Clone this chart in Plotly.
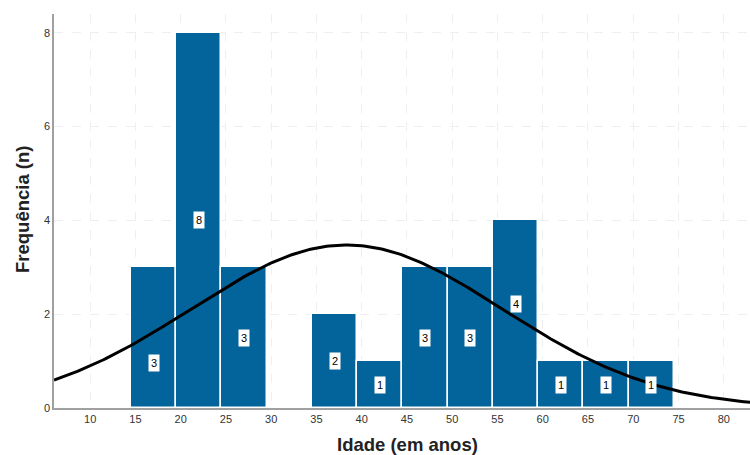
import numpy as np
import plotly.graph_objects as go

# Data: histogram bins (bin centers, years) and counts
bin_centers = [17, 22, 27, 37, 42, 47, 52, 57, 62, 67, 72]
counts = [3, 8, 3, 2, 1, 3, 3, 4, 1, 1, 1]
bin_width = 5
x_ticks = [10, 15, 20, 25, 30, 35, 40, 45, 50, 55, 60, 65, 70, 75, 80]
y_ticks = [0, 2, 4, 6, 8]
# heights where the count labels sit inside each bar
label_heights = [0.97, 4.0, 1.5, 1.0, 0.5, 1.5, 1.5, 2.21, 0.5, 0.5, 0.5]

bar_color = "#03639b"

# fitted normal curve from the histogram data
c = np.array(bin_centers, float)
n = np.array(counts, float)
N = n.sum()
mean = (c * n).sum() / N
sd = np.sqrt(((c - mean) ** 2 * n).sum() / (N - 1))
xs = np.linspace(6.0, 83, 300)
ys = N * bin_width / (sd * np.sqrt(2 * np.pi)) * np.exp(-0.5 * ((xs - mean) / sd) ** 2)

W, H = 750, 455
ML, MR, MT, MB = 54, 0, 14, 47

fig = go.Figure()
fig.add_trace(go.Bar(
    x=bin_centers, y=counts, width=bin_width,
    marker=dict(color=bar_color, line=dict(color="white", width=1.5)),
    hoverinfo="x+y", showlegend=False,
))
fig.add_trace(go.Scatter(
    x=xs, y=ys, mode="lines", line=dict(color="black", width=3),
    showlegend=False, hoverinfo="skip",
))

for xc, cnt, yl in zip(bin_centers, counts, label_heights):
    fig.add_annotation(
        x=xc, y=yl, text=str(cnt), showarrow=False,
        font=dict(family="Liberation Sans Narrow, Liberation Sans, Arial", size=11, color="black"),
        bgcolor="white", borderpad=2,
    )

# axis titles as paper annotations
fig.add_annotation(
    xref="paper", yref="paper", x=(407 - ML) / (W - ML - MR), y=-(444 - (H - MB)) / (H - MT - MB),
    text="<b>Idade (em anos)</b>", showarrow=False, xanchor="center", yanchor="middle",
    font=dict(family="Liberation Sans, Arial", size=18.5, color="#222"),
)
fig.add_annotation(
    xref="paper", yref="paper", x=-(ML - 22) / (W - ML - MR), y=((H - MB) - 210) / (H - MT - MB),
    text="<b>Frequência (n)</b>", showarrow=False, textangle=-90, xanchor="center", yanchor="middle",
    font=dict(family="Liberation Sans, Arial", size=18.5, color="#222"),
)

fig.update_layout(
    width=W, height=H,
    margin=dict(l=ML, r=MR, t=MT, b=MB, autoexpand=False),
    plot_bgcolor="white", paper_bgcolor="white",
    bargap=0,
    font=dict(family="Liberation Sans, Arial", color="#222"),
)
fig.update_xaxes(
    range=[6.0, 82.9], tickvals=x_ticks, ticktext=[str(t) for t in x_ticks],
    showgrid=True, gridcolor="#efefef", griddash="dash", gridwidth=1,
    showline=True, linecolor="#a0a0a0", linewidth=1.5,
    ticks="", zeroline=False, automargin=False,
    tickfont=dict(family="Liberation Sans Narrow, Liberation Sans, Arial", size=11, color="#333"),
)
fig.update_yaxes(
    range=[0, 8.4], tickvals=y_ticks, ticktext=[str(t) for t in y_ticks],
    showgrid=True, gridcolor="#efefef", griddash="dash", gridwidth=1,
    showline=True, linecolor="#a0a0a0", linewidth=1.5,
    ticks="", zeroline=False, automargin=False,
    tickfont=dict(family="Liberation Sans Narrow, Liberation Sans, Arial", size=11, color="#333"),
)

fig.write_html("out.html", config={"displayModeBar": False},
               post_script="document.body.style.margin='0';")
